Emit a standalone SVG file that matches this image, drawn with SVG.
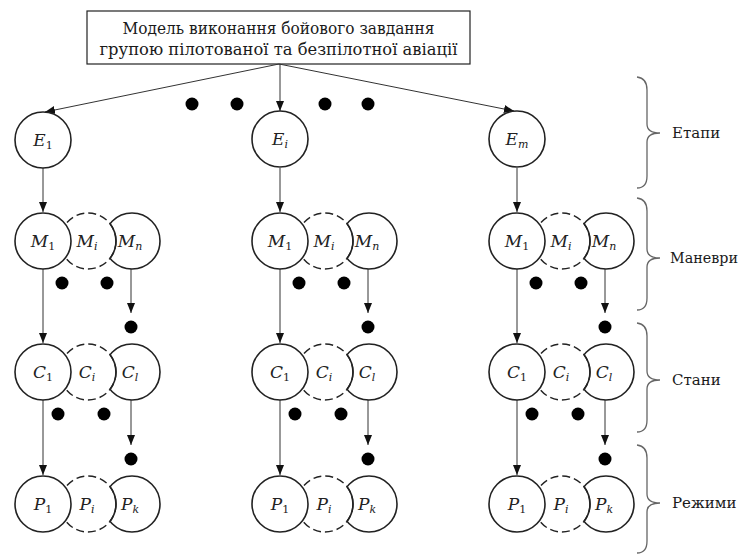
<svg xmlns="http://www.w3.org/2000/svg" width="746" height="554" viewBox="0 0 746 554">
<defs>
<style>
.bg{fill:#fff}
.box{fill:#fff;stroke:#222;stroke-width:1.2}
.title{font-family:'DejaVu Serif','Liberation Serif',serif;font-size:17.5px;fill:#1a1a1a;text-anchor:middle}
.side{font-family:'DejaVu Serif','Liberation Serif',serif;font-size:15px;fill:#1a1a1a}
.nd{fill:#fff;stroke:#222;stroke-width:1.6}
.nf{fill:#fff;stroke:none}
.dash{fill:none;stroke:#222;stroke-width:1.4;stroke-dasharray:8 4}
.arc{fill:none;stroke:#222;stroke-width:1.6}
.lbl{font-family:'DejaVu Serif','Liberation Serif',serif;font-style:italic;font-size:17px;fill:#222;text-anchor:middle}
.sub{font-size:11px}
.up{font-style:normal}
.ln{stroke:#333;stroke-width:1;fill:none}
.dot{fill:#000}
.brace{fill:none;stroke:#666;stroke-width:1.3}
</style>
<marker id="ah" markerUnits="userSpaceOnUse" markerWidth="10" markerHeight="8" refX="10" refY="4" orient="auto">
<path d="M0,0 L10,4 L0,8 z" fill="#111"/>
</marker>
</defs>
<rect class="bg" x="0" y="0" width="746" height="554"/>

<g id="root">
<rect class="box" x="87" y="11" width="383" height="53"/>
<text class="title" x="278.5" y="34" textLength="312" lengthAdjust="spacingAndGlyphs">Модель виконання бойового завдання</text>
<text class="title" x="278.5" y="55" textLength="358" lengthAdjust="spacingAndGlyphs">групою пілотованої та безпілотної авіації</text>
</g>

<g id="connectors">
<line class="ln" x1="279" y1="64" x2="45" y2="112" marker-end="url(#ah)"/>
<line class="ln" x1="280" y1="64" x2="280" y2="111" marker-end="url(#ah)"/>
<line class="ln" x1="279" y1="64" x2="514" y2="111" marker-end="url(#ah)"/>

<line class="ln" x1="43" y1="168" x2="43" y2="212" marker-end="url(#ah)"/>
<line class="ln" x1="43" y1="269" x2="43" y2="343" marker-end="url(#ah)"/>
<line class="ln" x1="131" y1="269" x2="131" y2="313" marker-end="url(#ah)"/>
<line class="ln" x1="43" y1="400" x2="43" y2="475" marker-end="url(#ah)"/>
<line class="ln" x1="131" y1="400" x2="131" y2="445" marker-end="url(#ah)"/>

<line class="ln" x1="280" y1="168" x2="280" y2="212" marker-end="url(#ah)"/>
<line class="ln" x1="280" y1="269" x2="280" y2="343" marker-end="url(#ah)"/>
<line class="ln" x1="368" y1="269" x2="368" y2="313" marker-end="url(#ah)"/>
<line class="ln" x1="280" y1="400" x2="280" y2="475" marker-end="url(#ah)"/>
<line class="ln" x1="368" y1="400" x2="368" y2="445" marker-end="url(#ah)"/>

<line class="ln" x1="517" y1="168" x2="517" y2="212" marker-end="url(#ah)"/>
<line class="ln" x1="517" y1="269" x2="517" y2="343" marker-end="url(#ah)"/>
<line class="ln" x1="605" y1="269" x2="605" y2="313" marker-end="url(#ah)"/>
<line class="ln" x1="517" y1="400" x2="517" y2="475" marker-end="url(#ah)"/>
<line class="ln" x1="605" y1="400" x2="605" y2="445" marker-end="url(#ah)"/>
</g>

<g id="dots">
<circle class="dot" cx="192" cy="104" r="6.5"/>
<circle class="dot" cx="237" cy="104" r="6.5"/>
<circle class="dot" cx="325" cy="104" r="6.5"/>
<circle class="dot" cx="368" cy="104" r="6.5"/>

<circle class="dot" cx="62" cy="283" r="6.5"/>
<circle class="dot" cx="107" cy="283" r="6.5"/>
<circle class="dot" cx="131" cy="327" r="6.5"/>
<circle class="dot" cx="58" cy="414" r="6.5"/>
<circle class="dot" cx="104" cy="414" r="6.5"/>
<circle class="dot" cx="131" cy="459" r="6.5"/>

<circle class="dot" cx="299" cy="283" r="6.5"/>
<circle class="dot" cx="344" cy="283" r="6.5"/>
<circle class="dot" cx="368" cy="327" r="6.5"/>
<circle class="dot" cx="295" cy="414" r="6.5"/>
<circle class="dot" cx="341" cy="414" r="6.5"/>
<circle class="dot" cx="368" cy="459" r="6.5"/>

<circle class="dot" cx="536" cy="283" r="6.5"/>
<circle class="dot" cx="581" cy="283" r="6.5"/>
<circle class="dot" cx="605" cy="327" r="6.5"/>
<circle class="dot" cx="532" cy="414" r="6.5"/>
<circle class="dot" cx="578" cy="414" r="6.5"/>
<circle class="dot" cx="605" cy="459" r="6.5"/>
</g>

<!-- Column 1 -->
<g id="col1" transform="translate(43,0)">
<g id="E1"><circle class="nd" cx="0" cy="140" r="28"/><text class="lbl" x="0" y="146">E<tspan class="sub up" dy="3">1</tspan></text></g>
<g id="Mn_1"><circle class="nd" cx="89" cy="241" r="28"/><text class="lbl" x="87" y="247">M<tspan class="sub" dy="3">n</tspan></text></g>
<g id="Mi_1"><circle class="nf" cx="45" cy="241" r="28"/><circle class="dash" cx="45" cy="241" r="28"/><path class="arc" d="M67,223.7 A28,28 0 0 1 67,258.3"/><text class="lbl" x="44" y="247">M<tspan class="sub" dy="3">i</tspan></text></g>
<g id="M1_1"><circle class="nd" cx="0" cy="241" r="28"/><text class="lbl" x="0" y="247">M<tspan class="sub up" dy="3">1</tspan></text></g>

<g id="Cl_1"><circle class="nd" cx="89" cy="372" r="28"/><text class="lbl" x="87" y="378">C<tspan class="sub" dy="3">l</tspan></text></g>
<g id="Ci_1"><circle class="nf" cx="45" cy="372" r="28"/><circle class="dash" cx="45" cy="372" r="28"/><path class="arc" d="M67,354.7 A28,28 0 0 1 67,389.3"/><text class="lbl" x="44" y="378">C<tspan class="sub" dy="3">i</tspan></text></g>
<g id="C1_1"><circle class="nd" cx="0" cy="372" r="28"/><text class="lbl" x="0" y="378">C<tspan class="sub up" dy="3">1</tspan></text></g>

<g id="Pk_1"><circle class="nd" cx="89" cy="504" r="28"/><text class="lbl" x="87" y="510">P<tspan class="sub" dy="3">k</tspan></text></g>
<g id="Pi_1"><circle class="nf" cx="45" cy="504" r="28"/><circle class="dash" cx="45" cy="504" r="28"/><path class="arc" d="M67,486.7 A28,28 0 0 1 67,521.3"/><text class="lbl" x="44" y="510">P<tspan class="sub" dy="3">i</tspan></text></g>
<g id="P1_1"><circle class="nd" cx="0" cy="504" r="28"/><text class="lbl" x="0" y="510">P<tspan class="sub up" dy="3">1</tspan></text></g>
</g>

<!-- Column 2 -->
<g id="col2" transform="translate(280,0)">
<g id="Ei"><circle class="nd" cx="0" cy="139" r="28"/><text class="lbl" x="0" y="145">E<tspan class="sub" dy="3">i</tspan></text></g>
<g id="Mn_2"><circle class="nd" cx="89" cy="241" r="28"/><text class="lbl" x="87" y="247">M<tspan class="sub" dy="3">n</tspan></text></g>
<g id="Mi_2"><circle class="nf" cx="45" cy="241" r="28"/><circle class="dash" cx="45" cy="241" r="28"/><path class="arc" d="M67,223.7 A28,28 0 0 1 67,258.3"/><text class="lbl" x="44" y="247">M<tspan class="sub" dy="3">i</tspan></text></g>
<g id="M1_2"><circle class="nd" cx="0" cy="241" r="28"/><text class="lbl" x="0" y="247">M<tspan class="sub up" dy="3">1</tspan></text></g>

<g id="Cl_2"><circle class="nd" cx="89" cy="372" r="28"/><text class="lbl" x="87" y="378">C<tspan class="sub" dy="3">l</tspan></text></g>
<g id="Ci_2"><circle class="nf" cx="45" cy="372" r="28"/><circle class="dash" cx="45" cy="372" r="28"/><path class="arc" d="M67,354.7 A28,28 0 0 1 67,389.3"/><text class="lbl" x="44" y="378">C<tspan class="sub" dy="3">i</tspan></text></g>
<g id="C1_2"><circle class="nd" cx="0" cy="372" r="28"/><text class="lbl" x="0" y="378">C<tspan class="sub up" dy="3">1</tspan></text></g>

<g id="Pk_2"><circle class="nd" cx="89" cy="504" r="28"/><text class="lbl" x="87" y="510">P<tspan class="sub" dy="3">k</tspan></text></g>
<g id="Pi_2"><circle class="nf" cx="45" cy="504" r="28"/><circle class="dash" cx="45" cy="504" r="28"/><path class="arc" d="M67,486.7 A28,28 0 0 1 67,521.3"/><text class="lbl" x="44" y="510">P<tspan class="sub" dy="3">i</tspan></text></g>
<g id="P1_2"><circle class="nd" cx="0" cy="504" r="28"/><text class="lbl" x="0" y="510">P<tspan class="sub up" dy="3">1</tspan></text></g>
</g>

<!-- Column 3 -->
<g id="col3" transform="translate(517,0)">
<g id="Em"><circle class="nd" cx="0" cy="139" r="28"/><text class="lbl" x="0" y="145">E<tspan class="sub" dy="3">m</tspan></text></g>
<g id="Mn_3"><circle class="nd" cx="89" cy="241" r="28"/><text class="lbl" x="87" y="247">M<tspan class="sub" dy="3">n</tspan></text></g>
<g id="Mi_3"><circle class="nf" cx="45" cy="241" r="28"/><circle class="dash" cx="45" cy="241" r="28"/><path class="arc" d="M67,223.7 A28,28 0 0 1 67,258.3"/><text class="lbl" x="44" y="247">M<tspan class="sub" dy="3">i</tspan></text></g>
<g id="M1_3"><circle class="nd" cx="0" cy="241" r="28"/><text class="lbl" x="0" y="247">M<tspan class="sub up" dy="3">1</tspan></text></g>

<g id="Cl_3"><circle class="nd" cx="89" cy="372" r="28"/><text class="lbl" x="87" y="378">C<tspan class="sub" dy="3">l</tspan></text></g>
<g id="Ci_3"><circle class="nf" cx="45" cy="372" r="28"/><circle class="dash" cx="45" cy="372" r="28"/><path class="arc" d="M67,354.7 A28,28 0 0 1 67,389.3"/><text class="lbl" x="44" y="378">C<tspan class="sub" dy="3">i</tspan></text></g>
<g id="C1_3"><circle class="nd" cx="0" cy="372" r="28"/><text class="lbl" x="0" y="378">C<tspan class="sub up" dy="3">1</tspan></text></g>

<g id="Pk_3"><circle class="nd" cx="89" cy="504" r="28"/><text class="lbl" x="87" y="510">P<tspan class="sub" dy="3">k</tspan></text></g>
<g id="Pi_3"><circle class="nf" cx="45" cy="504" r="28"/><circle class="dash" cx="45" cy="504" r="28"/><path class="arc" d="M67,486.7 A28,28 0 0 1 67,521.3"/><text class="lbl" x="44" y="510">P<tspan class="sub" dy="3">i</tspan></text></g>
<g id="P1_3"><circle class="nd" cx="0" cy="504" r="28"/><text class="lbl" x="0" y="510">P<tspan class="sub up" dy="3">1</tspan></text></g>
</g>

<g id="braces">
<g id="b_etapy">
<path class="brace" d="M637,77 Q647,78 647,90 L647,124 Q647,133 660,133 Q647,133 647,142 L647,176 Q647,188 637,188"/>
<text class="side" x="672" y="138">Етапи</text>
</g>
<g id="b_manevry">
<path class="brace" d="M637,198 Q647,199 647,211 L647,249 Q647,258 660,258 Q647,258 647,267 L647,298 Q647,310 637,310"/>
<text class="side" x="670" y="263" textLength="68" lengthAdjust="spacingAndGlyphs">Маневри</text>
</g>
<g id="b_stany">
<path class="brace" d="M637,323 Q647,324 647,336 L647,371 Q647,380 660,380 Q647,380 647,389 L647,420 Q647,432 637,432"/>
<text class="side" x="672" y="385">Стани</text>
</g>
<g id="b_rezhymy">
<path class="brace" d="M637,445 Q647,446 647,458 L647,494 Q647,503 660,503 Q647,503 647,512 L647,541 Q647,553 637,553"/>
<text class="side" x="672" y="508">Режими</text>
</g>
</g>
</svg>
